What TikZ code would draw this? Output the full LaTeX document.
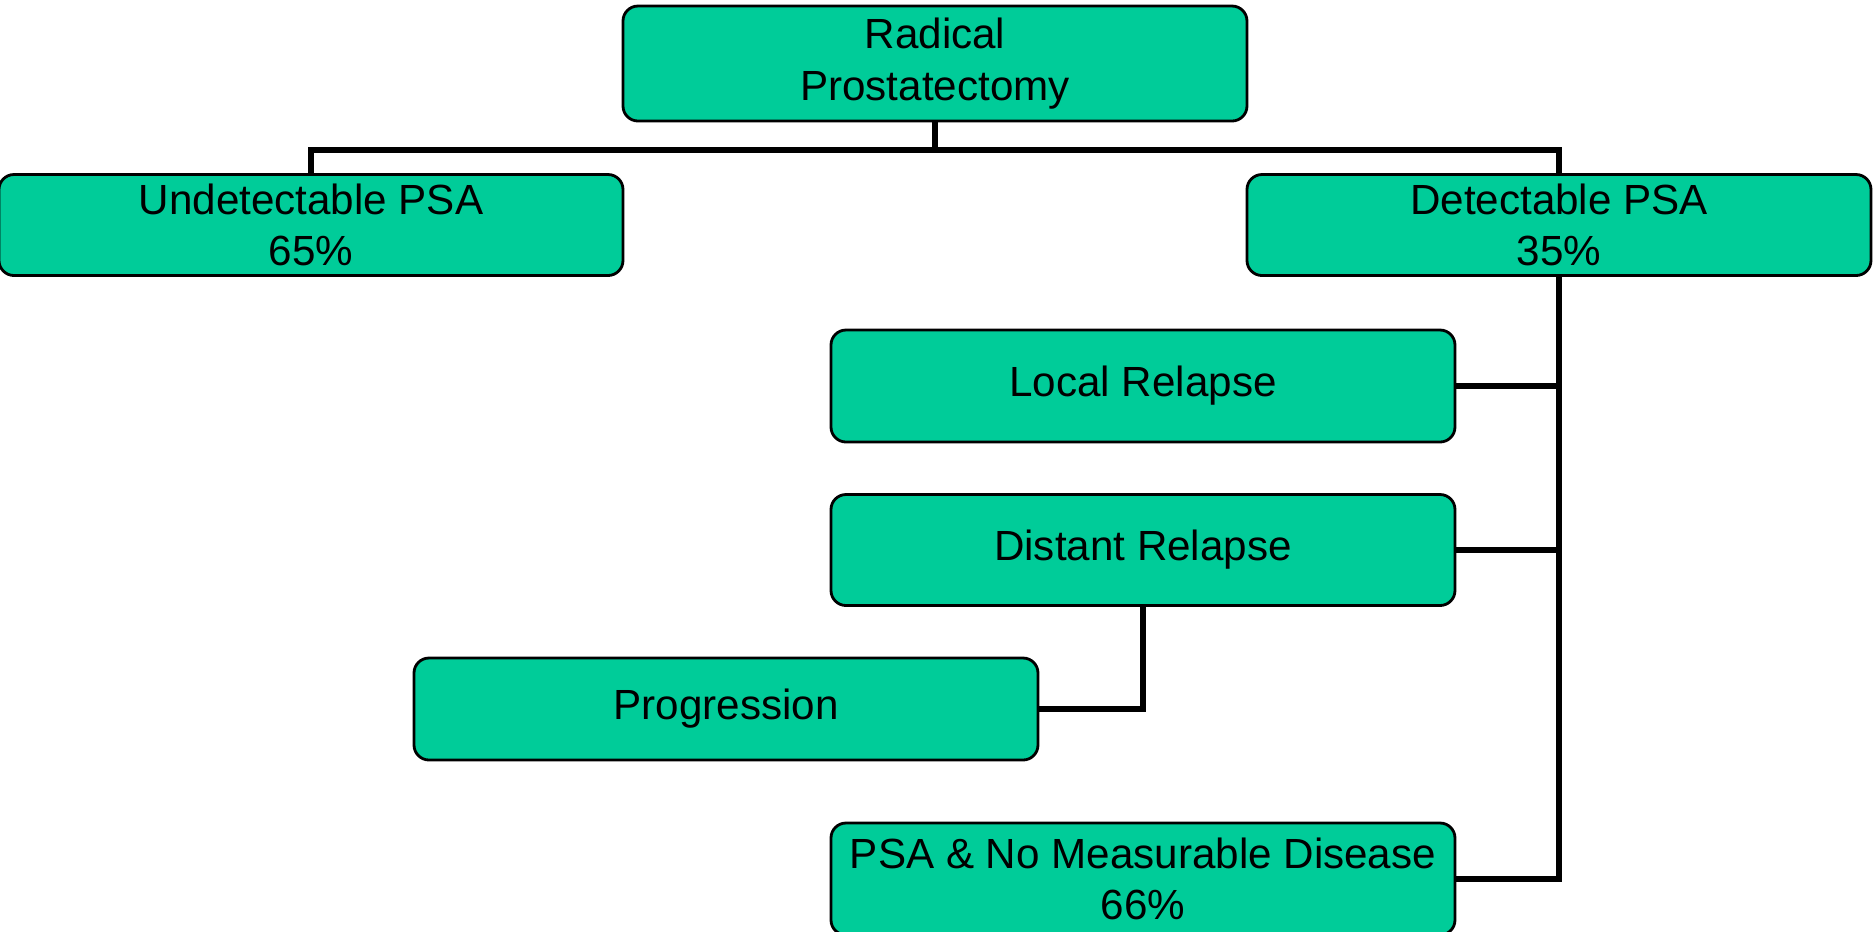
\documentclass[tikz,border=0pt]{standalone}
\usepackage{fontspec}
\setmainfont{Liberation Sans}
\usepackage{tikz}
\usetikzlibrary{positioning}
\definecolor{boxgreen}{RGB}{0,204,153}
\tikzset{
    %Define style for boxes
    stage/.style={
           rectangle,
           rounded corners=0.15cm,
           draw=black, line width=0.8pt,
           fill=boxgreen,
           minimum width=6.24cm,
           inner sep=0pt,
           font=\fontsize{12}{14.7}\selectfont,
           align=center},
    % Define connector style
    link/.style={
           line width=1.8pt,
           line join=miter,
           draw=black}
}
\begin{document}
\begin{tikzpicture}
\useasboundingbox (0,0) rectangle (18.75,-9.31);
\node[stage, minimum height=1.15cm](rp) at (9.35,-0.635){Radical\\Prostatectomy};
\node[stage, minimum height=1.01cm](undet) at (3.11,-2.25){Undetectable PSA\\65\%};
\node[stage, minimum height=1.01cm](det) at (15.59,-2.25){Detectable PSA\\35\%};
\node[stage, minimum height=1.12cm](local) at (11.43,-3.86){Local Relapse};
\node[stage, minimum height=1.11cm](distant) at (11.43,-5.50){Distant Relapse};
\node[stage, minimum height=1.02cm](prog) at (7.26,-7.09){Progression};
\node[stage, minimum height=1.12cm](psa) at (11.43,-8.79){PSA \& No Measurable Disease\\66\%};
\draw[link] (rp.south) -- (9.35,-1.50) coordinate (split);
\draw[link] (undet.north) |- (split) -| (det.north);
\draw[link] (det.south) |- (psa.east);
\draw[link] (local.east) -- (local.east -| det.south);
\draw[link] (distant.east) -- (distant.east -| det.south);
\draw[link] (distant.south) |- (prog.east);
\end{tikzpicture}
\end{document}
